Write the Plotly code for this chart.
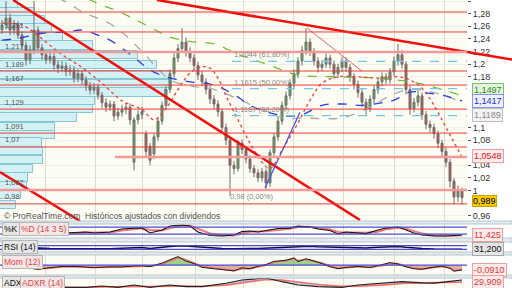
import numpy as np
import plotly.graph_objects as go

# ---------------- candles ----------------
open_ = [1.255, 1.262, 1.273, 1.254, 1.262, 1.246, 1.230, 1.207, 1.222, 1.254,
         1.226, 1.215, 1.207, 1.212, 1.199, 1.194, 1.197, 1.188, 1.191, 1.178,
         1.185, 1.175, 1.166, 1.159, 1.164, 1.151, 1.139, 1.132, 1.137, 1.118,
         1.124, 1.128, 1.132, 1.045, 1.112, 1.120, 1.090, 1.070, 1.058, 1.085,
         1.110, 1.135, 1.160, 1.185, 1.210, 1.225, 1.235, 1.220, 1.210, 1.198,
         1.183, 1.172, 1.160, 1.145, 1.137, 1.125, 1.100, 1.080, 1.040, 1.035,
         1.075, 1.065, 1.050, 1.035, 1.028, 1.020, 1.030, 1.012, 1.060, 1.085,
         1.110, 1.135, 1.150, 1.170, 1.185, 1.205, 1.222, 1.235, 1.220, 1.205,
         1.195, 1.200, 1.210, 1.200, 1.185, 1.195, 1.205, 1.195, 1.180, 1.168,
         1.155, 1.140, 1.130, 1.145, 1.160, 1.172, 1.180, 1.175, 1.188, 1.205,
         1.215, 1.200, 1.160, 1.130, 1.140, 1.150, 1.120, 1.105, 1.100, 1.090,
         1.075, 1.062, 1.045, 1.015, 0.990, 1.000]
high = [1.270, 1.300, 1.280, 1.270, 1.268, 1.252, 1.236, 1.230, 1.300, 1.260,
        1.232, 1.222, 1.220, 1.218, 1.206, 1.205, 1.203, 1.199, 1.197, 1.192,
        1.190, 1.181, 1.172, 1.170, 1.169, 1.156, 1.146, 1.143, 1.142, 1.131,
        1.136, 1.139, 1.138, 1.116, 1.127, 1.133, 1.095, 1.075, 1.090, 1.116,
        1.141, 1.166, 1.192, 1.217, 1.232, 1.257, 1.242, 1.227, 1.216, 1.204,
        1.189, 1.178, 1.166, 1.151, 1.143, 1.130, 1.106, 1.085, 1.047, 1.080,
        1.081, 1.070, 1.056, 1.041, 1.034, 1.036, 1.035, 1.065, 1.091, 1.116,
        1.141, 1.157, 1.176, 1.192, 1.211, 1.229, 1.257, 1.241, 1.226, 1.211,
        1.207, 1.217, 1.215, 1.206, 1.201, 1.212, 1.211, 1.200, 1.186, 1.174,
        1.161, 1.146, 1.151, 1.166, 1.178, 1.187, 1.186, 1.194, 1.212, 1.232,
        1.222, 1.205, 1.166, 1.147, 1.158, 1.155, 1.126, 1.111, 1.106, 1.095,
        1.080, 1.068, 1.050, 1.020, 1.008, 1.005]
low = [1.248, 1.255, 1.246, 1.247, 1.240, 1.222, 1.198, 1.200, 1.216, 1.219,
       1.207, 1.200, 1.201, 1.191, 1.186, 1.188, 1.181, 1.182, 1.171, 1.172,
       1.168, 1.158, 1.152, 1.153, 1.144, 1.131, 1.124, 1.126, 1.110, 1.112,
       1.117, 1.121, 1.104, 1.032, 1.105, 1.113, 1.055, 1.040, 1.050, 1.079,
       1.104, 1.129, 1.154, 1.179, 1.203, 1.218, 1.212, 1.203, 1.190, 1.175,
       1.165, 1.152, 1.137, 1.129, 1.117, 1.092, 1.072, 0.992, 1.026, 1.030,
       1.058, 1.043, 1.028, 1.021, 1.013, 1.014, 1.000, 1.006, 1.054, 1.079,
       1.104, 1.128, 1.144, 1.163, 1.178, 1.198, 1.215, 1.213, 1.198, 1.187,
       1.189, 1.194, 1.193, 1.177, 1.178, 1.188, 1.188, 1.172, 1.160, 1.147,
       1.132, 1.120, 1.124, 1.138, 1.153, 1.165, 1.168, 1.169, 1.181, 1.198,
       1.193, 1.152, 1.120, 1.124, 1.133, 1.112, 1.097, 1.092, 1.082, 1.067,
       1.055, 1.037, 1.005, 0.978, 0.982, 0.978]
close = [1.262, 1.273, 1.254, 1.262, 1.246, 1.230, 1.207, 1.222, 1.254, 1.226,
         1.215, 1.207, 1.212, 1.199, 1.194, 1.197, 1.188, 1.191, 1.178, 1.185,
         1.175, 1.166, 1.159, 1.164, 1.151, 1.139, 1.132, 1.137, 1.118, 1.124,
         1.128, 1.132, 1.112, 1.112, 1.120, 1.125, 1.062, 1.048, 1.085, 1.110,
         1.135, 1.160, 1.185, 1.210, 1.225, 1.235, 1.220, 1.210, 1.198, 1.183,
         1.172, 1.160, 1.145, 1.137, 1.125, 1.100, 1.080, 1.040, 1.035, 1.075,
         1.065, 1.050, 1.035, 1.028, 1.020, 1.030, 1.012, 1.060, 1.085, 1.110,
         1.135, 1.150, 1.170, 1.185, 1.205, 1.222, 1.235, 1.220, 1.205, 1.195,
         1.200, 1.210, 1.200, 1.185, 1.195, 1.205, 1.195, 1.180, 1.168, 1.155,
         1.140, 1.130, 1.145, 1.160, 1.172, 1.180, 1.175, 1.188, 1.205, 1.215,
         1.200, 1.160, 1.130, 1.140, 1.150, 1.120, 1.105, 1.100, 1.090, 1.075,
         1.062, 1.045, 1.015, 0.990, 1.000, 0.989]
bar_idx = list(range(len(close)))
month_grid = [10.75, 23.25, 35, 48.25, 60.25, 72.75, 85.25, 98, 110.5]
price_ticks = [0.96, 1.0, 1.02, 1.04, 1.08, 1.1, 1.18, 1.2, 1.22, 1.24, 1.26, 1.28, 1.3]

# ---------------- moving averages (sampled) ----------------
ma_blue_x = [0, 4, 10, 16, 20, 24, 27, 33, 37, 41, 47, 53, 59, 62, 67, 71, 75, 80, 85, 90, 95, 98, 102, 107, 112, 115]
ma_blue = [1.238, 1.241, 1.249, 1.251, 1.254, 1.246, 1.238, 1.211, 1.191, 1.180, 1.172, 1.167, 1.148, 1.135, 1.123,
           1.118, 1.120, 1.135, 1.137, 1.135, 1.139, 1.143, 1.156, 1.154, 1.148, 1.142]
ma_green_x = [18, 22, 30, 36, 42, 47, 53, 59, 67, 74, 84, 94, 104, 110, 115]
ma_green = [1.320, 1.302, 1.281, 1.262, 1.243, 1.236, 1.232, 1.216, 1.198, 1.183, 1.180, 1.178, 1.170, 1.160, 1.150]
ma_gray_x = [14, 17, 20, 27, 31, 35, 39, 42, 47, 53, 60, 66, 71, 75, 80, 85, 92, 97, 102, 108, 115]
ma_gray = [1.305, 1.295, 1.283, 1.264, 1.245, 1.220, 1.193, 1.175, 1.166, 1.160, 1.142, 1.125, 1.114, 1.115,
           1.114, 1.115, 1.132, 1.150, 1.160, 1.155, 1.140]
ma_red_x = [0, 5, 10, 15, 20, 25, 30, 35, 38, 41, 44, 47, 50, 52, 54, 56, 59, 62, 65, 67, 70, 74, 77, 80, 84,
            89, 94, 99, 102, 105, 108, 111, 115]
ma_red = [1.265, 1.262, 1.240, 1.215, 1.195, 1.170, 1.142, 1.128, 1.112, 1.130, 1.160, 1.186, 1.196, 1.194, 1.178,
          1.150, 1.112, 1.075, 1.045, 1.035, 1.064, 1.107, 1.143, 1.170, 1.180, 1.180, 1.178, 1.180, 1.175, 1.162,
          1.135, 1.100, 1.053]

# ---------------- drawings ----------------
support_levels = [1.2826, 1.2510, 1.1892, 1.1670, 1.1290, 1.0910, 1.0690, 0.9790]
strong_levels = [1.2193, 1.0010]
partial_level = 1.0532
partial_level_start = 28.25
fib_levels = [1.2044, 1.1615, 1.1187]
fib_pcts = [61.80, 50.00, 38.20]
fib_zero = 0.98
fib_start = 57.5
trend_main_x, trend_main_y = [2.75, 89.5], [1.3016, 0.9535]
trend_low_x, trend_low_y = [-0.5, 19.5], [1.0294, 0.9519]
trend_res_x, trend_res_y = [38.75, 116.25], [1.3016, 1.2193]
trend_blue_x, trend_blue_y = [65.75, 74.5], [1.004, 1.124]
trend_thin_x, trend_thin_y = [76.25, 90.0], [1.2573, 1.189]

# ---------------- volume at price ----------------
vp_price = [1.2953, 1.2826, 1.2700, 1.2565, 1.2430, 1.2296, 1.2146, 1.1987, 1.1829, 1.1687, 1.1552, 1.1418,
            1.1291, 1.1157, 1.1006, 1.0880, 1.0761, 1.0627, 1.0484, 1.0342, 1.0207, 1.0073, 0.9930, 0.9772]
vp_volume = [18, 35, 45, 52, 63, 93, 138, 157, 170, 172, 165, 95, 93, 77, 55, 55, 42, 43, 43, 33, 28, 27, 21, 16]
vp_labels = [1.251, 1.217, 1.189, 1.167, 1.129, 1.091, 1.07, 1.002, 0.98]

# ---------------- indicators (sampled) ----------------
sx = [0, 3, 6, 9, 12, 15, 18, 21, 23, 27, 30, 33, 35, 37, 40, 42, 45, 47, 49, 52, 55, 58, 60, 62, 64, 66, 69, 72,
      74, 77, 79, 82, 84, 86, 88, 91, 94, 96, 99, 101, 103, 105, 108, 111, 113, 115]
stoch_k = [29, 29, 29, 24, 20, 29, 33, 37, 29, 37, 63, 71, 71, 29, 54, 89, 97, 89, 37, 7, 3, 11, 41, 46, 37, 50, 67,
           71, 89, 80, 63, 50, 20, 37, 33, 24, 54, 71, 80, 54, 29, 11, 3, 3, 7, 12]
stoch_d = [30, 29, 29, 27, 24, 24, 27, 33, 33, 34, 50, 64, 70, 55, 50, 72, 90, 92, 65, 25, 10, 8, 25, 40, 42, 44, 55,
           66, 80, 82, 72, 58, 38, 32, 34, 30, 40, 60, 74, 68, 45, 25, 10, 5, 5, 10]
rsi = [40, 45, 38, 45, 40, 38, 40, 36, 38, 35, 42, 45, 50, 40, 55, 62, 68, 62, 52, 42, 38, 36, 42, 40, 38, 42, 55, 62,
       66, 64, 58, 56, 52, 54, 48, 45, 52, 58, 62, 52, 44, 38, 33, 31, 28, 31]
mx = [0, 3, 6, 9, 12, 15, 18, 21, 23, 27, 30, 33, 35, 37, 40, 42, 44, 46, 48, 50, 53, 56, 58, 60, 62, 64, 66, 68, 71,
      73, 74, 76, 78, 80, 82, 84, 86, 89, 92, 95, 97, 99, 101, 103, 105, 107, 110, 112, 113, 115]
mom = [0.013, -0.034, -0.053, -0.082, -0.049, -0.025, -0.025, -0.044, -0.049, -0.034, -0.034, -0.015, -0.010, -0.030,
       0.042, 0.108, 0.171, 0.080, 0.032, -0.044, -0.072, -0.100, -0.114, -0.053, -0.072, -0.021, 0.013, 0.076, 0.099,
       0.146, 0.070, 0.127, 0.080, 0.032, -0.034, -0.072, -0.044, -0.025, -0.049, 0.004, 0.051, 0.023, -0.034, -0.072,
       -0.082, -0.049, -0.019, -0.063, -0.120, -0.091]
mom_sig = [0.005, -0.020, -0.045, -0.070, -0.060, -0.035, -0.028, -0.038, -0.046, -0.040, -0.035, -0.022, -0.013,
           -0.022, 0.020, 0.085, 0.150, 0.110, 0.050, -0.020, -0.060, -0.090, -0.108, -0.070, -0.068, -0.035, 0.000,
           0.060, 0.090, 0.130, 0.090, 0.115, 0.090, 0.045, -0.015, -0.060, -0.050, -0.032, -0.042, -0.010, 0.035,
           0.030, -0.020, -0.060, -0.078, -0.058, -0.028, -0.055, -0.105, -0.100]
ax_ = [0, 6, 12, 18, 21, 25, 29, 33, 37, 42, 46, 50, 56, 60, 64, 66, 70, 74, 79, 85, 89, 95, 100, 105, 108, 112, 115]
adx = [12, 12, 12, 12, 12.5, 17, 12.5, 20.5, 12.5, 20.5, 15, 15, 26.6, 38, 43, 45, 32, 20.5, 15, 12.5, 20.5, 27, 32,
       28, 27, 33, 38]
adxr = [14, 13, 12, 12, 12, 14, 14, 16, 16, 16, 17, 16, 20, 28, 36, 40, 38, 30, 22, 16, 16, 20, 26, 28, 28, 30, 30]
last_stoch, last_rsi, last_mom, last_adxr = 11.425, 31.200, -0.0910, 29.909
last_vals = [(1.1497, '#2a8a2a', '#e2f5da', '#7cbf6c', 6), (1.1417, '#2233cc', '#eef0ff', '#8899ee', 0),
             (1.1189, '#8a8a8a', '#f4f4f4', '#bbbbbb', 0), (1.0548, '#dd2222', '#fdeaea', '#f0a0a0', 0),
             (0.989, '#000000', '#f5cc00', '#d0a000', -3)]


def fmt(v, d):
    return f"{v:.{d}f}".replace('.', ',')


XR = [-0.5, 116.25]
W_FRAC = 512 / 467
fig = go.Figure()

# volume profile on base axis
fig.add_trace(go.Bar(y=vp_price, x=vp_volume, orientation='h', width=0.0128, xaxis='x', yaxis='y',
                     marker=dict(color='#d3f1f5', line=dict(color='#86c8d2', width=1)), hoverinfo='skip'))

# candles
fig.add_trace(go.Candlestick(x=bar_idx, open=open_, high=high, low=low, close=close, xaxis='x2', yaxis='y',
                             whiskerwidth=0,
                             increasing=dict(fillcolor='#54b054', line=dict(color='#6e6e6e', width=1)),
                             decreasing=dict(fillcolor='#c4504a', line=dict(color='#6e6e6e', width=1))))

for xs, ys, col, dash in [(ma_green_x, ma_green, '#6cbf3a', 'dash'), (ma_gray_x, ma_gray, '#aaaaaa', 'dash'),
                          (ma_blue_x, ma_blue, '#2a3ee0', 'dash'), (ma_red_x, ma_red, '#ec4040', 'dot')]:
    fig.add_trace(go.Scatter(x=xs, y=ys, mode='lines', xaxis='x2', yaxis='y', line_shape='spline',
                             line=dict(color=col, width=1.3, dash=dash), hoverinfo='skip'))

for xs, ys, col, w in [(trend_main_x, trend_main_y, '#f01010', 2.6), (trend_low_x, trend_low_y, '#f01010', 2.6),
                       (trend_res_x, trend_res_y, '#f01010', 2.6), (trend_blue_x, trend_blue_y, '#4455ee', 1.3),
                       (trend_thin_x, trend_thin_y, '#f06060', 1)]:
    fig.add_trace(go.Scatter(x=xs, y=ys, mode='lines', xaxis='x2', yaxis='y',
                             line=dict(color=col, width=w), hoverinfo='skip'))

# stochastic
fig.add_trace(go.Scatter(x=sx, y=stoch_d, mode='lines', xaxis='x3', yaxis='y2', line=dict(color='#f07a7a', width=2)))
fig.add_trace(go.Scatter(x=sx, y=stoch_k, mode='lines', xaxis='x3', yaxis='y2', line=dict(color='#111111', width=1.1)))
# RSI
fig.add_trace(go.Scatter(x=sx, y=rsi, mode='lines', xaxis='x4', yaxis='y3', line=dict(color='#0a0a30', width=1.5)))
# momentum
mom_arr = np.array(mom)
fig.add_trace(go.Scatter(x=mx, y=np.clip(mom_arr, 0, None), mode='lines', fill='tozeroy', xaxis='x5', yaxis='y4',
                         fillcolor='rgba(140,200,120,0.85)', line=dict(width=0)))
fig.add_trace(go.Scatter(x=mx, y=np.clip(mom_arr, None, 0), mode='lines', fill='tozeroy', xaxis='x5', yaxis='y4',
                         fillcolor='rgba(215,150,145,0.8)', line=dict(width=0)))
fig.add_trace(go.Scatter(x=mx, y=mom_sig, mode='lines', xaxis='x5', yaxis='y4', line=dict(color='#f07070', width=1.6)))
fig.add_trace(go.Scatter(x=mx, y=mom, mode='lines', xaxis='x5', yaxis='y4', line=dict(color='#222222', width=1)))
# ADX
fig.add_trace(go.Scatter(x=ax_, y=adxr, mode='lines', xaxis='x6', yaxis='y5', line=dict(color='#f07070', width=1.6)))
fig.add_trace(go.Scatter(x=ax_, y=adx, mode='lines', xaxis='x6', yaxis='y5', fill='tonexty',
                         fillcolor='rgba(150,160,215,0.55)', line=dict(color='#222222', width=1.2)))

shapes = []
for lv in support_levels:
    shapes.append(dict(type='line', xref='paper', x0=0, x1=1, yref='y', y0=lv, y1=lv,
                       line=dict(color='#ec3a3a', width=1)))
for lv in strong_levels:
    shapes.append(dict(type='line', xref='paper', x0=0, x1=1, yref='y', y0=lv, y1=lv,
                       line=dict(color='#f29a9a', width=2.6)))
shapes.append(dict(type='line', xref='x2', x0=partial_level_start, x1=XR[1], yref='y', y0=partial_level,
                   y1=partial_level, line=dict(color='#f29a9a', width=2.6)))
for lv in fib_levels:
    shapes.append(dict(type='line', xref='x2', x0=fib_start, x1=XR[1], yref='y', y0=lv, y1=lv,
                       line=dict(color='#6cc8ee', width=1.3, dash='dash')))
# resistance trend line continues across the price scale
res_slope = (trend_res_y[1] - trend_res_y[0]) / (trend_res_x[1] - trend_res_x[0])
x_far = XR[0] + W_FRAC * (XR[1] - XR[0])
shapes.append(dict(type='line', xref='paper', x0=1, x1=W_FRAC, yref='y',
                   y0=trend_res_y[0] + res_slope * (XR[1] - trend_res_x[0]),
                   y1=trend_res_y[0] + res_slope * (x_far - trend_res_x[0]),
                   line=dict(color='#f01010', width=2.6)))
# indicator levels
for yr, lvls in [('y2', [80, 20]), ('y3', [70, 30]), ('y4', [0])]:
    for lv in lvls:
        shapes.append(dict(type='line', xref='paper', x0=0, x1=1, yref=yr, y0=lv, y1=lv,
                           line=dict(color='#4b4bd8', width=1.2)))
# panel separators
for y0, y1 in [(221, 224), (238, 242), (252, 255), (275, 278)]:
    shapes.append(dict(type='rect', xref='paper', x0=0, x1=W_FRAC, yref='paper', y0=1 - y1 / 288,
                       y1=1 - y0 / 288, fillcolor='#e2ebef', line=dict(color='#b7c8d1', width=1)))

ann = []
for lv in vp_labels:
    ann.append(dict(xref='paper', x=0.006, yref='y', y=lv, text=fmt(lv, 3 if round(lv, 2) != lv else 2),
                    showarrow=False, xanchor='left', yanchor='bottom', font=dict(size=7.5, color='#555555')))
for lv, pc in zip(fib_levels, fib_pcts):
    ann.append(dict(xref='x2', x=fib_start, yref='y', y=lv, text=f"{fmt(lv, 4)} ({fmt(pc, 2)}%)", showarrow=False,
                    xanchor='left', yanchor='bottom', font=dict(size=7.5, color='#8a8a8a')))
ann.append(dict(xref='x2', x=fib_start - 1, yref='y', y=fib_zero, text=f"{fmt(fib_zero, 2)} (0,00%)",
                showarrow=False, xanchor='left', yanchor='bottom', font=dict(size=7.5, color='#8a8a8a')))
for v, fc, bg, bc, sh in last_vals:
    ann.append(dict(xref='paper', x=1.01, yref='y', y=v, yshift=sh, text=fmt(v, 4 if v > 1 else 3),
                    showarrow=False, xanchor='left', yanchor='middle', bgcolor=bg, bordercolor=bc, borderwidth=1,
                    borderpad=0 if v < 1 else 1, font=dict(size=9, color=fc)))
for yr, v, txt, fc, bg, bc in [('y2', last_stoch, fmt(last_stoch, 3), '#e03a3a', '#fdeaea', '#f0a0a0'),
                               ('y3', last_rsi, fmt(last_rsi, 3), '#111111', '#e6e6e6', '#aaaaaa'),
                               ('y4', last_mom, fmt(last_mom, 4), '#e03a3a', '#fdeaea', '#f0a0a0'),
                               ('y5', last_adxr, fmt(last_adxr, 3), '#e03a3a', '#fdeaea', '#f0a0a0')]:
    ann.append(dict(xref='paper', x=1.01, yref=yr, y=v, text=txt, showarrow=False, xanchor='left', yanchor='middle',
                    bgcolor=bg, bordercolor=bc, borderwidth=1, borderpad=1, font=dict(size=9, color=fc)))
ann.append(dict(xref='paper', x=0.004, yref='paper', y=1 - 216 / 288, text='© ProRealTime.com  Históricos ajustados con dividendos',
                showarrow=False, xanchor='left', yanchor='middle', font=dict(size=8.5, color='#555555')))
for txt, xp, ypx, fc, bg in [('%K', 2, 229, '#111111', '#e6e6e6'), ('%D (14 3 5)', 19, 229, '#e04848', '#f3e6e6'),
                             ('RSI (14)', 2, 247, '#111111', '#e6e6e6'), ('Mom (12)', 2, 262, '#e04848', '#f3e6e6'),
                             ('ADX', 2, 283, '#111111', '#e6e6e6'), ('ADXR (14)', 20, 283, '#e04848', '#f3e6e6')]:
    ann.append(dict(xref='paper', x=xp / 467, yref='paper', y=1 - ypx / 288, text=txt, showarrow=False,
                    xanchor='left', yanchor='middle', bgcolor=bg, bordercolor='#b5b5b5', borderwidth=1, borderpad=1,
                    font=dict(size=8.5, color=fc)))

xgrid = dict(domain=[0, 1], range=XR, showticklabels=False, tickvals=month_grid, showgrid=True,
             gridcolor='#dcdcd2', gridwidth=1, ticks='', zeroline=False, showline=False)
noy = dict(showticklabels=False, showgrid=False, zeroline=False, ticks='')

fig.update_layout(
    width=512, height=288, margin=dict(l=0, r=45, t=0, b=0),
    paper_bgcolor='#ffffff', plot_bgcolor='#fdfdf3', separators=',.', showlegend=False,
    font=dict(family='Liberation Sans, DejaVu Sans, sans-serif', size=9, color='#333333'),
    xaxis=dict(domain=[0, 1], range=[0, 467], visible=False, anchor='y'),
    xaxis2=dict(xgrid, overlaying='x', anchor='y', rangeslider=dict(visible=False)),
    xaxis3=dict(xgrid, anchor='y2'), xaxis4=dict(xgrid, anchor='y3'),
    xaxis5=dict(xgrid, anchor='y4'), xaxis6=dict(xgrid, anchor='y5'),
    yaxis=dict(domain=[1 - 221 / 288, 1], range=[0.9519, 1.3016], side='right', tickvals=price_ticks,
               ticks='outside', ticklen=3, tickcolor='#555555', showgrid=True, gridcolor='#f1f1e4',
               zeroline=False, tickfont=dict(size=9, color='#333333'), anchor='x2'),
    yaxis2=dict(noy, domain=[1 - 238 / 288, 1 - 224 / 288], range=[-14, 106], anchor='x3'),
    yaxis3=dict(noy, domain=[1 - 252 / 288, 1 - 242 / 288], range=[0, 111], anchor='x4'),
    yaxis4=dict(noy, domain=[1 - 275 / 288, 1 - 255 / 288], range=[-0.196, 0.203], anchor='x5'),
    yaxis5=dict(noy, domain=[0, 1 - 278 / 288], range=[10, 45], anchor='x6'),
    shapes=shapes, annotations=ann, bargap=0,
)
fig.write_html("out.html")
